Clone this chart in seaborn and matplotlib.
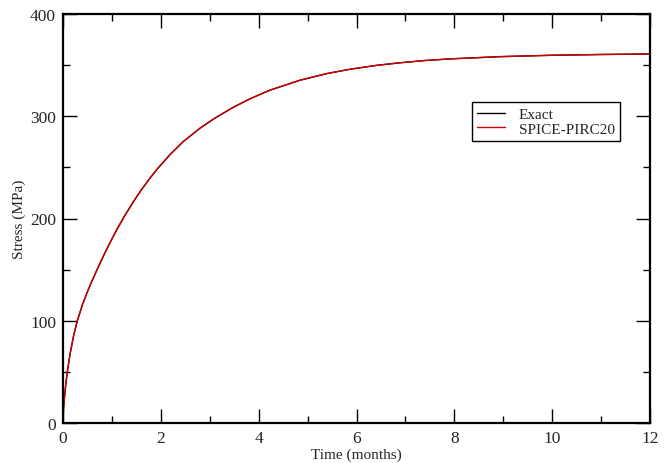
import matplotlib
matplotlib.use("Agg")
import matplotlib.pyplot as plt
import seaborn as sns
import pandas as pd
from matplotlib.ticker import MultipleLocator
from matplotlib.lines import Line2D

# Data
time_months = [0, 0.003, 0.01, 0.03, 0.06, 0.095, 0.15, 0.22, 0.293, 0.4, 0.5,
               0.6, 0.7, 0.8, 0.9, 1.0, 1.1, 1.25, 1.44, 1.6, 1.8, 1.95, 2.2,
               2.46, 2.8, 3.1, 3.48, 3.82, 4.23, 4.85, 5.4, 5.87, 6.4, 6.89,
               7.4, 7.91, 8.94, 9.96, 11.0, 12.0]
exact_stress = [0, 7, 13.5, 24.8, 39.2, 52.5, 69, 86, 100, 116, 128.5,
                139.7, 150.3, 160.6, 170.6, 180, 189.1, 201.8, 216.5, 227.9, 240.8, 249.7, 263.1,
                275.3, 288.3, 298, 308.7, 317, 325.5, 335.3, 341.8, 346, 349.7, 352.3,
                354.5, 356.1, 358.3, 359.6, 360.4, 360.9]
spice_stress = list(exact_stress)
series_names = ["Exact", "SPICE-PIRC20"]
x_ticks = [0, 2, 4, 6, 8, 10, 12]
y_ticks = [0, 100, 200, 300, 400]

df = pd.concat([
    pd.DataFrame({"t": time_months, "s": exact_stress, "series": series_names[0]}),
    pd.DataFrame({"t": time_months, "s": spice_stress, "series": series_names[1]}),
])

sns.set_style("ticks")
plt.rcParams['font.family'] = ['Liberation Serif', 'DejaVu Serif']

fig = plt.figure(figsize=(6.72, 4.64), dpi=100)
ax = fig.add_axes([63/672, 40/464, (650-63)/672, (424-15)/464])

red = "#d00000"
sns.lineplot(data=df, x="t", y="s", hue="series",
             palette={"Exact": "black", "SPICE-PIRC20": red},
             linewidth=1.0, ax=ax, legend=False, estimator=None, sort=False)

ax.set_xlim(0, 12)
ax.set_ylim(0, 400)
ax.set_xticks(x_ticks)
ax.set_yticks(y_ticks)
ax.xaxis.set_minor_locator(MultipleLocator(1))
ax.yaxis.set_minor_locator(MultipleLocator(50))
ax.tick_params(which="both", direction="in", top=True, right=True,
               color="black", width=1.0)
ax.tick_params(which="major", length=10, labelsize=12.5, pad=5)
ax.tick_params(which="minor", length=5)
for sp in ax.spines.values():
    sp.set_visible(True)
    sp.set_linewidth(1.6)
    sp.set_color("black")

ax.set_xlabel("Time (months)", fontsize=11, labelpad=1)
ax.set_ylabel("Stress (MPa)", fontsize=11, labelpad=3)

handles = [Line2D([], [], color="black", lw=1.0),
           Line2D([], [], color=red, lw=1.0)]
leg = ax.legend(handles, series_names, loc="upper left",
                bbox_to_anchor=(472/672, 1-103/464), bbox_transform=fig.transFigure,
                fontsize=11, frameon=True, fancybox=False, framealpha=1,
                edgecolor="black", handlelength=1.8, handletextpad=0.9,
                borderpad=0.35, labelspacing=0.05, borderaxespad=0)
leg.get_frame().set_linewidth(1.0)

fig.savefig("out.png", dpi=100)
